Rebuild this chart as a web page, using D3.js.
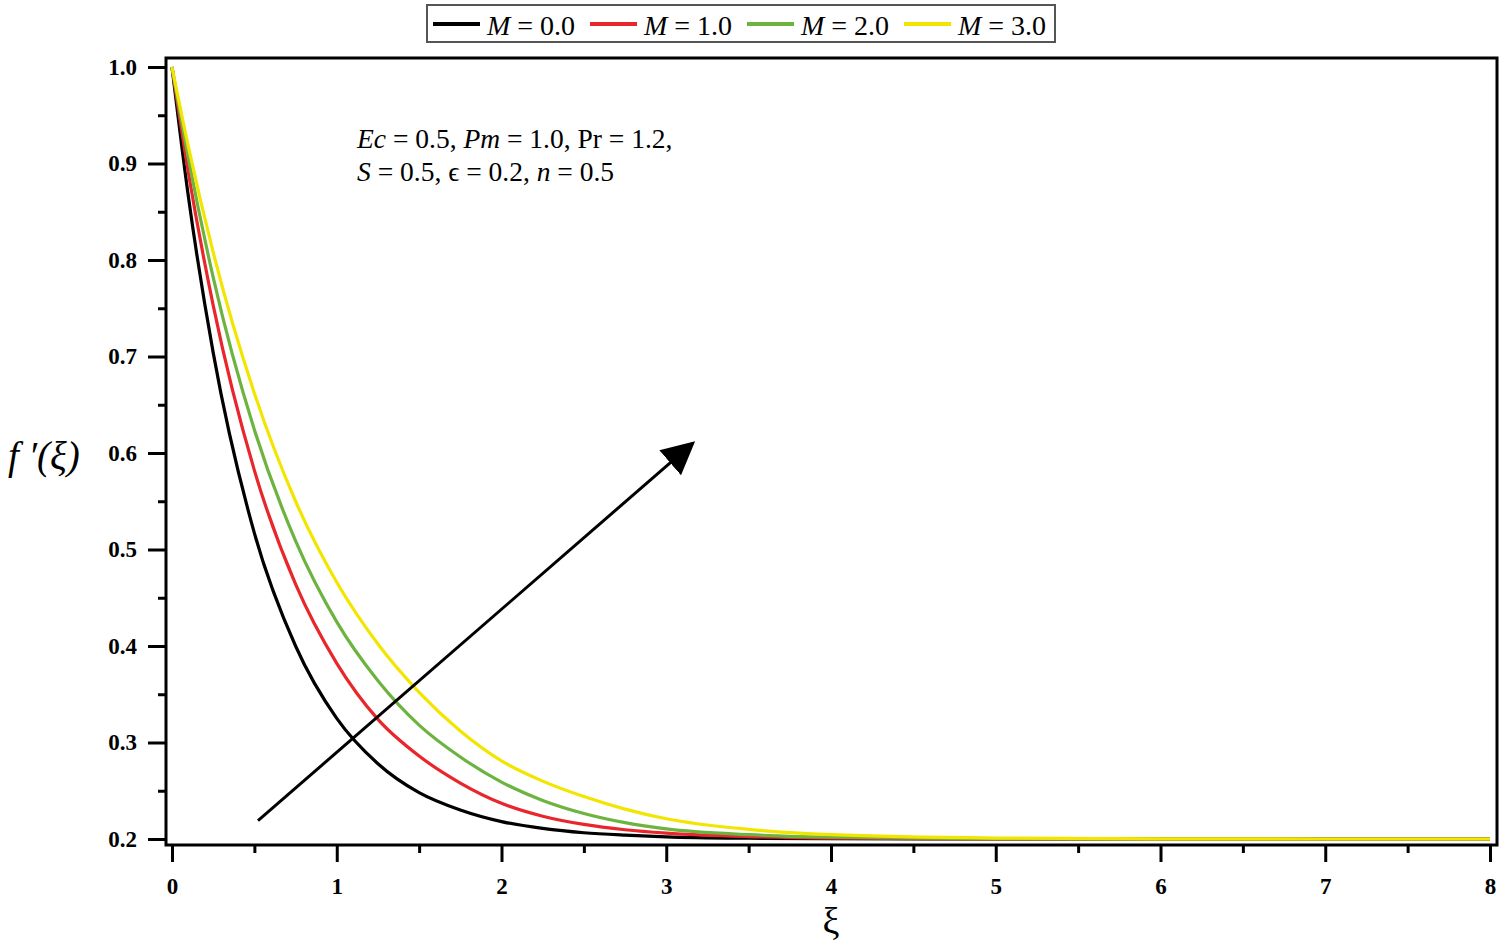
<!DOCTYPE html>
<html lang="en">
    <head>
        <meta charset="utf-8">
        <title>f'(xi) for several M</title>
        <script src="https://d3js.org/d3.v7.min.js"></script>
        <style>
            body { margin: 0; background: #fff; }
            text { font-family: "Liberation Serif", "Times New Roman", serif; }
        </style>
    </head>
    <body>
        <script type="text/javascript">

            var w = 1504;
            var h = 949;

            // values
            var xi = [0, 0.1, 0.25, 0.5, 0.75, 1, 1.25, 1.5, 1.75, 2, 2.25, 2.5, 2.75, 3, 3.5, 4, 5, 6, 7, 8];
            var m0 = [1.0, 0.865, 0.704, 0.517, 0.400, 0.325, 0.278, 0.248, 0.230, 0.218, 0.211, 0.2065, 0.204, 0.2023, 0.2008, 0.2003, 0.200, 0.200, 0.200, 0.200];
            var m1 = [1.0, 0.890, 0.753, 0.582, 0.464, 0.382, 0.324, 0.286, 0.258, 0.237, 0.2236, 0.2151, 0.2096, 0.2061, 0.2025, 0.201, 0.2002, 0.200, 0.200, 0.200];
            var m2 = [1.0, 0.905, 0.782, 0.624, 0.509, 0.425, 0.364, 0.318, 0.285, 0.259, 0.240, 0.2265, 0.217, 0.2105, 0.2045, 0.2018, 0.2003, 0.200, 0.200, 0.200];
            var m3 = [1.0, 0.917, 0.808, 0.662, 0.550, 0.466, 0.402, 0.352, 0.312, 0.281, 0.260, 0.244, 0.231, 0.221, 0.210, 0.2045, 0.201, 0.2002, 0.200, 0.200];

            var seriesNames = ["M = 0.0", "M = 1.0", "M = 2.0", "M = 3.0"];
            var seriesVals = [m0, m1, m2, m3];
            var colors = ["#000000", "#e8262b", "#6db33f", "#f2e600"];

            var xTicks = [0, 1, 2, 3, 4, 5, 6, 7, 8];
            var yTicks = [0.2, 0.3, 0.4, 0.5, 0.6, 0.7, 0.8, 0.9, 1.0];

            // arrow: start and end in data units
            var arrowPts = [[0.522, 0.219], [3.16, 0.61]];

            var x = d3.scaleLinear().domain([0, 8]).range([172, 1490]);
            var y = d3.scaleLinear().domain([0.2, 1.0]).range([839, 67]);

            var frameL = 166, frameR = 1497, frameT = 58, frameB = 845;

            var svg = d3.select("body")
                        .append("svg")
                        .attr("width", w)
                        .attr("height", h);

            // curves
            var line = d3.line()
                         .x(function(d) { return x(d[0]); })
                         .y(function(d) { return y(d[1]); })
                         .curve(d3.curveMonotoneX);

            svg.selectAll("path.curve")
               .data(seriesVals)
               .enter()
               .append("path")
               .attr("class", "curve")
               .attr("d", function(vals) {
                   return line(xi.map(function(v, i) { return [v, vals[i]]; }));
               })
               .attr("fill", "none")
               .attr("stroke", function(d, i) { return colors[i]; })
               .attr("stroke-width", 3.2);

            // frame
            svg.append("rect")
               .attr("x", frameL)
               .attr("y", frameT)
               .attr("width", frameR - frameL)
               .attr("height", frameB - frameT)
               .attr("fill", "none")
               .attr("stroke", "#000")
               .attr("stroke-width", 3);

            // y axis, major + minor
            var yAxis = svg.append("g")
                           .attr("transform", "translate(" + frameL + ",0)")
                           .call(d3.axisLeft(y).tickValues(yTicks).tickSize(18).tickPadding(11).tickFormat(d3.format(".1f")));
            var yMinor = svg.append("g")
                            .attr("transform", "translate(" + frameL + ",0)")
                            .call(d3.axisLeft(y).tickValues(d3.range(0.25, 1.0, 0.1)).tickSize(8).tickFormat(""));

            var xAxis = svg.append("g")
                           .attr("transform", "translate(0," + frameB + ")")
                           .call(d3.axisBottom(x).tickValues(xTicks).tickSize(17).tickPadding(16).tickFormat(d3.format("d")));
            var xMinor = svg.append("g")
                            .attr("transform", "translate(0," + frameB + ")")
                            .call(d3.axisBottom(x).tickValues(d3.range(0.5, 8, 1)).tickSize(8).tickFormat(""));

            [yAxis, yMinor, xAxis, xMinor].forEach(function(g) {
                g.select(".domain").remove();
                g.selectAll(".tick line").attr("stroke", "#000").attr("stroke-width", 3);
                g.selectAll(".tick text")
                 .attr("font-family", "'Liberation Serif', serif")
                 .attr("font-weight", "bold")
                 .attr("font-size", 23)
                 .attr("fill", "#000");
            });

            // axis titles
            svg.append("text")
               .attr("x", 8)
               .attr("y", 469)
               .attr("font-size", 39)
               .attr("font-style", "italic")
               .text("f \u2032(\u03be)");

            svg.append("text")
               .attr("x", 831)
               .attr("y", 934)
               .attr("text-anchor", "middle")
               .attr("font-size", 38)
               .text("\u03be");

            // parameter note
            var note = svg.append("text")
                          .attr("font-size", 27.5);
            var l1 = note.append("tspan").attr("x", 357).attr("y", 148);
            l1.append("tspan").attr("font-style", "italic").text("Ec");
            l1.append("tspan").text(" = 0.5, ");
            l1.append("tspan").attr("font-style", "italic").text("Pm");
            l1.append("tspan").text(" = 1.0, Pr = 1.2,");
            var l2 = note.append("tspan").attr("x", 357).attr("y", 181);
            l2.append("tspan").attr("font-style", "italic").text("S");
            l2.append("tspan").text(" = 0.5, \u03f5 = 0.2, ");
            l2.append("tspan").attr("font-style", "italic").text("n");
            l2.append("tspan").text(" = 0.5");

            // arrow
            svg.append("defs").append("marker")
               .attr("id", "head")
               .attr("viewBox", "0 0 10 10")
               .attr("refX", 9)
               .attr("refY", 5)
               .attr("markerWidth", 11)
               .attr("markerHeight", 11)
               .attr("markerUnits", "strokeWidth")
               .attr("orient", "auto")
               .append("path")
               .attr("d", "M0,0 L10,5 L0,10 Z")
               .attr("fill", "#000");

            svg.append("line")
               .attr("x1", x(arrowPts[0][0]))
               .attr("y1", y(arrowPts[0][1]))
               .attr("x2", x(arrowPts[1][0]))
               .attr("y2", y(arrowPts[1][1]))
               .attr("stroke", "#000")
               .attr("stroke-width", 3)
               .attr("marker-end", "url(#head)");

            // legend
            var legend = svg.append("g");
            legend.append("rect")
                  .attr("x", 427)
                  .attr("y", 5)
                  .attr("width", 628)
                  .attr("height", 37)
                  .attr("fill", "#fff")
                  .attr("stroke", "#555")
                  .attr("stroke-width", 2);

            var item = legend.selectAll("g.item")
                             .data(seriesNames)
                             .enter()
                             .append("g")
                             .attr("class", "item")
                             .attr("transform", function(d, i) { return "translate(" + (433 + i * 157) + ",0)"; });
            item.append("line")
                .attr("x1", 0).attr("x2", 47)
                .attr("y1", 24).attr("y2", 24)
                .attr("stroke", function(d, i) { return colors[i]; })
                .attr("stroke-width", 4);
            var lt = item.append("text")
                         .attr("x", 54)
                         .attr("y", 35)
                         .attr("font-size", 28);
            lt.append("tspan").attr("font-style", "italic").text("M");
            lt.append("tspan").text(function(d) { return d.slice(1); });

        </script>
    </body>
</html>
